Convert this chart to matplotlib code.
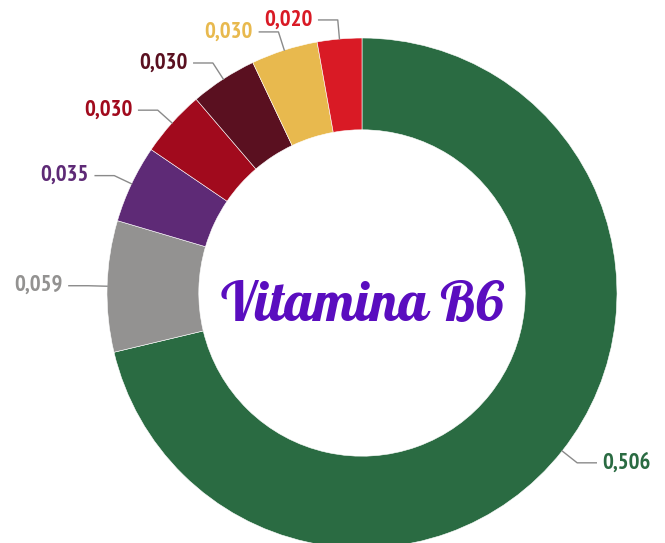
import numpy as np
import matplotlib.pyplot as plt

# dados (sentido horário a partir do topo)
valores = [0.506, 0.059, 0.035, 0.030, 0.030, 0.030, 0.020]
rotulos = ["0,506", "0,059", "0,035", "0,030", "0,030", "0,030", "0,020"]
cores = ["#2A6B42", "#939291", "#5E2A76", "#A10A1D", "#5A1020", "#E8B94E", "#D91A25"]
titulo = "Vitamina B6"

fig = plt.figure(figsize=(6.65, 5.43), dpi=100)
ax = fig.add_axes([0, 0, 1, 1])

# centro do anel em (362, 293) px, raio 255 px
escala = 255.0

wedges, _ = ax.pie(valores, colors=cores, startangle=90, counterclock=False,
                   radius=1.0, wedgeprops=dict(width=0.36, edgecolor="white", linewidth=0.4),
                   frame=True)
ax.set_xlim(-362 / escala, (665 - 362) / escala)
ax.set_ylim(-(543 - 293) / escala, 293 / escala)
ax.set_aspect("auto")
ax.axis("off")

# linhas de chamada e rótulos
for w, rot, cor in zip(wedges, rotulos, cores):
    ang = np.deg2rad((w.theta1 + w.theta2) / 2)
    x0, y0 = np.cos(ang), np.sin(ang)
    x1, y1 = 1.075 * x0, 1.075 * y0
    lado = 1 if x0 >= 0 else -1
    x2 = x1 + lado * 0.075
    ax.plot([x0, x1, x2], [y0, y1, y1], color="#8a8a8a", lw=1.0)
    ax.text(x2 + lado * 0.025, y1, rot, color=cor, fontsize=16.5, fontweight="bold",
            family=["PT Sans Narrow", "DejaVu Sans"],
            ha="left" if lado > 0 else "right", va="center")

ax.text(0, -0.06, titulo, color="#5A0DBF", fontsize=40,
        family=["Lobster", "DejaVu Serif"],
        ha="center", va="center")

fig.savefig("out.png", dpi=100)
